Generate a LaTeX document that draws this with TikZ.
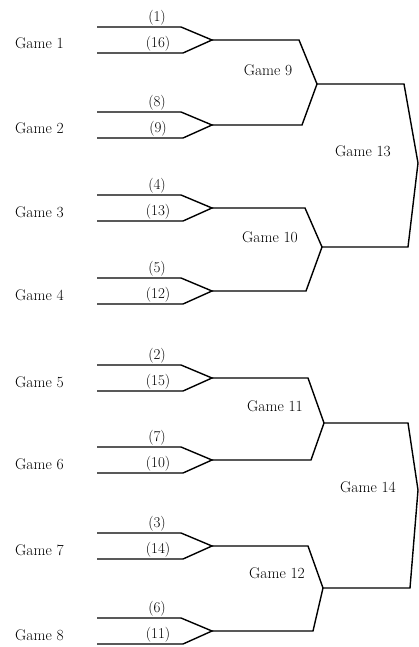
\documentclass[tikz,border=0pt]{standalone}
\begin{document}
\begin{tikzpicture}[x=1pt,y=-1pt,
  wire/.style={line width=1.4pt,line join=miter},
  seed/.style={font=\fontsize{15}{18}\selectfont,anchor=south,inner sep=1.5pt},
  glabel/.style={font=\fontsize{15.5}{18}\selectfont,anchor=base west,inner sep=0pt},
  rlabel/.style={font=\fontsize{15.5}{18}\selectfont,inner sep=0pt}]
\useasboundingbox (0,0) rectangle (419,647);
% first round
\foreach \n/\c/\s/\t in {1/40/1/16,2/125/8/9,3/208/4/13,4/291/5/12,5/378/2/15,6/460/7/10,7/546/3/14,8/631/6/11}{
  \coordinate (a\n) at (97,\c-13);
  \coordinate (ae\n) at (181,\c-13);
  \coordinate (b\n) at (97,\c+13);
  \coordinate (be\n) at (183,\c+13);
  \coordinate (t\n) at (212,\c);
  \draw[wire] (a\n) -- (ae\n) -- (t\n) -- (be\n) -- (b\n);
  \node[seed] (sa\n) at (157,\c-13) {(\s)};
  \node[seed] (sb\n) at (158,\c+13) {(\t)};
  \node[glabel] (gl\n) at (15,\c+9) {Game \n};
}
% second round
\coordinate (h1) at (299,40);  \coordinate (h2) at (302,125); \coordinate (p9) at (317,84);
\coordinate (h3) at (305,208); \coordinate (h4) at (306,291); \coordinate (p10) at (322,247);
\coordinate (h5) at (308,378); \coordinate (h6) at (311,460); \coordinate (p11) at (324,423);
\coordinate (h7) at (308,546); \coordinate (h8) at (313,631); \coordinate (p12) at (323,588);
\draw[wire] (t1) -- (h1) -- (p9) -- (h2) -- (t2);
\draw[wire] (t3) -- (h3) -- (p10) -- (h4) -- (t4);
\draw[wire] (t5) -- (h5) -- (p11) -- (h6) -- (t6);
\draw[wire] (t7) -- (h7) -- (p12) -- (h8) -- (t8);
\node[rlabel] (g9) at (268,70) {Game 9};
\node[rlabel] (g10) at (270,237) {Game 10};
\node[rlabel] (g11) at (275,406) {Game 11};
\node[rlabel] (g12) at (277,573) {Game 12};
% third round
\coordinate (q1) at (404,84);  \coordinate (r13) at (418,163); \coordinate (q2) at (408,247);
\coordinate (q3) at (408,423); \coordinate (r14) at (418,490); \coordinate (q4) at (410,588);
\draw[wire] (p9) -- (q1) -- (r13) -- (q2) -- (p10);
\draw[wire] (p11) -- (q3) -- (r14) -- (q4) -- (p12);
\node[rlabel] (g13) at (363,151) {Game 13};
\node[rlabel] (g14) at (368,487) {Game 14};
\end{tikzpicture}
\end{document}
